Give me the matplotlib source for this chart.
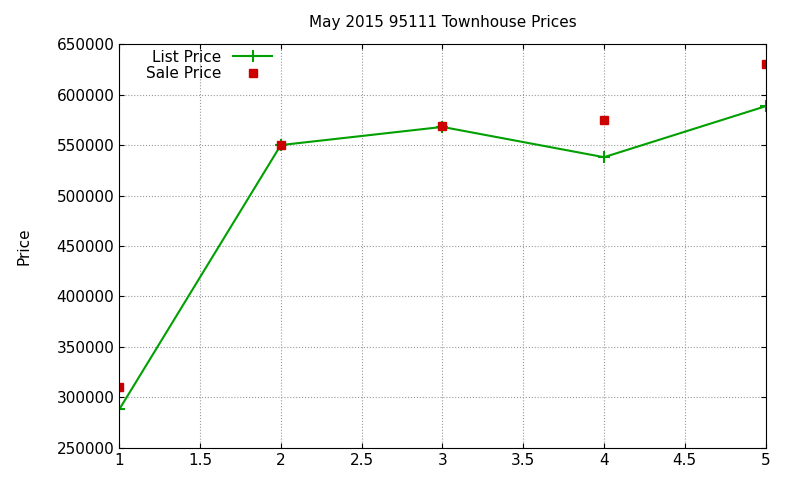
import matplotlib.pyplot as plt

x = [1, 2, 3, 4, 5]
list_price = [288000, 550000, 568000, 538000, 588500]
sale_price = [310000, 550000, 569000, 575000, 630000]

fig = plt.figure(figsize=(8, 4.8), dpi=100)
ax = fig.add_axes([0.149, 0.067, 0.808, 0.841])

ax.plot(x, list_price, color='#00a000', lw=1.5, marker='+', ms=8, mew=1.5, label='List Price')
ax.plot(x, sale_price, ls='none', marker='s', ms=6, color='#cc0000', label='Sale Price')

ax.set_xlim(1, 5)
ax.set_ylim(250000, 650000)
ax.set_xticks([1, 1.5, 2, 2.5, 3, 3.5, 4, 4.5, 5])
ax.set_xticklabels(['1', '1.5', '2', '2.5', '3', '3.5', '4', '4.5', '5'])
ax.set_yticks(range(250000, 650001, 50000))
ax.grid(True, color='#999999', ls=':', lw=0.8)
ax.tick_params(direction='in', labelsize=11, top=True, right=True)
ax.set_title('May 2015 95111 Townhouse Prices', fontsize=11, pad=12)
ax.set_ylabel('Price', fontsize=11, labelpad=18)

ax.legend(loc='upper left', frameon=False, markerfirst=False, fontsize=11,
          bbox_to_anchor=(0.02, 1.02), handlelength=2.5, labelspacing=0.1)

fig.savefig('out.png')
